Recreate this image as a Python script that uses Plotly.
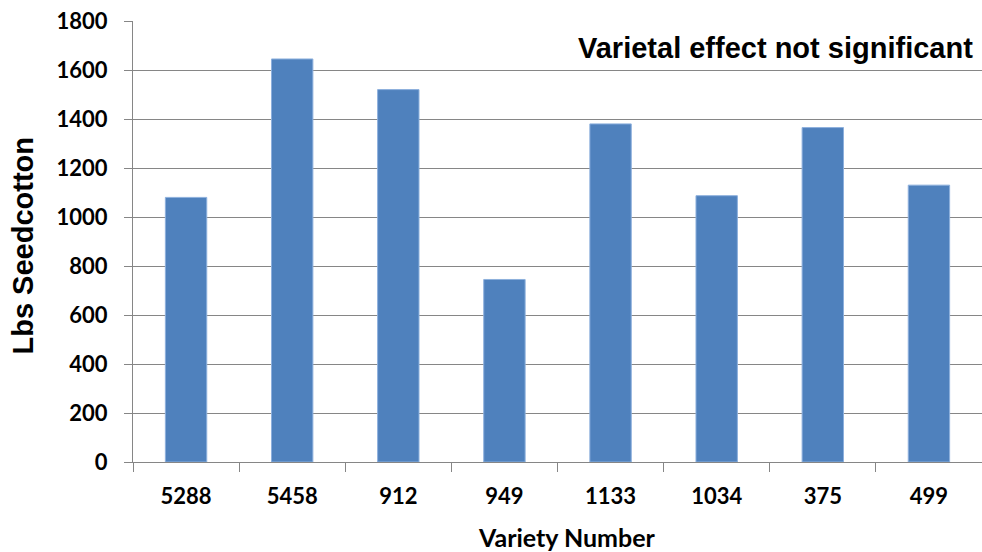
import plotly.graph_objects as go

# Seedcotton yield by variety
varieties = ["5288", "5458", "912", "949", "1133", "1034", "375", "499"]
yield_lbs = [1080, 1645, 1520, 745, 1380, 1087, 1365, 1130]

y_ticks = [0, 200, 400, 600, 800, 1000, 1200, 1400, 1600, 1800]

GRID = "#868686"
BAR = "#4F81BD"

fig = go.Figure(
    go.Bar(
        x=varieties,
        y=yield_lbs,
        width=0.39,
        marker=dict(color=BAR, line=dict(color="#8DB0DD", width=1)),
    )
)

fig.update_layout(
    width=982,
    height=552,
    margin=dict(l=133, r=0, t=21, b=90),
    paper_bgcolor="white",
    plot_bgcolor="white",
    showlegend=False,
    bargap=0.61,
)

fig.update_xaxes(
    type="category",
    showline=True,
    linecolor=GRID,
    linewidth=1,
    ticks="outside",
    tickson="boundaries",
    ticklen=9,
    tickcolor=GRID,
    tickfont=dict(family="Lato", size=22, color="black", weight="bold"),
    ticklabelstandoff=15,
    showgrid=False,
)

fig.update_yaxes(
    range=[0, 1800],
    tickvals=y_ticks,
    ticktext=[str(v) for v in y_ticks],
    showgrid=True,
    gridcolor=GRID,
    gridwidth=1,
    showline=True,
    linecolor=GRID,
    linewidth=1,
    ticks="outside",
    ticklen=8,
    tickcolor=GRID,
    tickfont=dict(family="Lato", size=22, color="black", weight="bold"),
    ticklabelstandoff=12,
    zeroline=False,
)

fig.add_annotation(
    text="<b>Varietal effect not significant</b>",
    xref="paper", yref="y",
    x=1, y=1690,
    xanchor="right", yanchor="middle",
    xshift=-7,
    showarrow=False,
    font=dict(family="Liberation Sans, Arial", size=29, color="black"),
)

fig.add_annotation(
    text="<b>Lbs Seedcotton</b>",
    xref="paper", yref="paper",
    x=0, y=0.5,
    xanchor="center", yanchor="middle",
    xshift=-111, yshift=-4,
    textangle=-90,
    showarrow=False,
    font=dict(family="Liberation Sans, Arial", size=29, color="black"),
)

fig.add_annotation(
    text="<b>Variety Number</b>",
    xref="paper", yref="paper",
    x=0.5, y=0,
    xanchor="center", yanchor="middle",
    xshift=9, yshift=-75,
    showarrow=False,
    font=dict(family="Lato", size=25, color="black"),
)

fig.write_html("out.html")
